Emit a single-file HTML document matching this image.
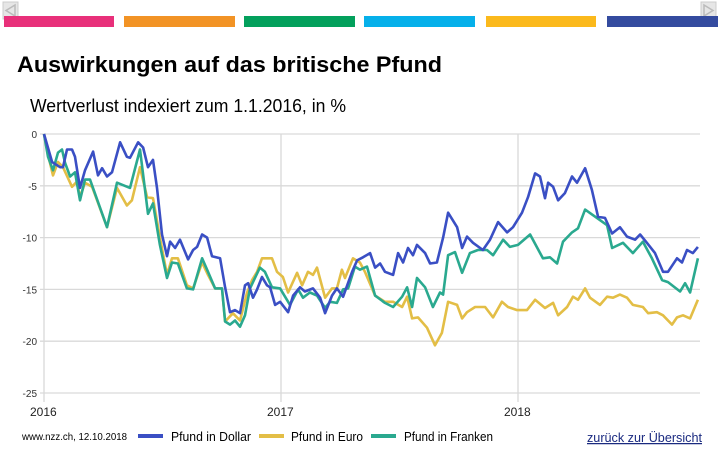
<!DOCTYPE html>
<html><head><meta charset="utf-8"><style>
html,body{margin:0;padding:0;background:#fff;}
svg{display:block;font-family:"Liberation Sans",sans-serif;}
</style></head><body>
<svg id="chart" width="720" height="450" viewBox="0 0 720 450">
  <g><rect x="3" y="2" width="15" height="17" fill="#e6e6e6" stroke="#ccc"/><path d="M15 5 L6 10.5 L15 16 Z" fill="none" stroke="#bbb" stroke-width="1.5"/></g>
  <g><rect x="701" y="2" width="15" height="17" fill="#e6e6e6" stroke="#ccc"/><path d="M704 5 L713 10.5 L704 16 Z" fill="none" stroke="#bbb" stroke-width="1.5"/></g>
  <g>
    <rect x="4" y="16" width="110" height="11" fill="#e8307a"/>
    <rect x="124" y="16" width="111" height="11" fill="#f29325"/>
    <rect x="244" y="16" width="111" height="11" fill="#03a05c"/>
    <rect x="364" y="16" width="111" height="11" fill="#06b0ea"/>
    <rect x="486" y="16" width="110" height="11" fill="#fbb91c"/>
    <rect x="607" y="16" width="111" height="11" fill="#344b9f"/>
  </g>
  <text x="17" y="72" font-size="22" font-weight="bold" fill="#000" textLength="425" lengthAdjust="spacingAndGlyphs">Auswirkungen auf das britische Pfund</text>
  <text x="30" y="112" font-size="18" fill="#000" textLength="316" lengthAdjust="spacingAndGlyphs">Wertverlust indexiert zum 1.1.2016, in %</text>
  <g id="grid"></g>
  <g id="series"></g>
  <text x="22" y="440" font-size="10" fill="#000" textLength="105" lengthAdjust="spacingAndGlyphs">www.nzz.ch, 12.10.2018</text>
  <g>
    <g><rect x="138" y="434" width="25" height="4" fill="#3a4fc4"/><text x="171" y="441" font-size="12.5" fill="#000" textLength="80" lengthAdjust="spacingAndGlyphs">Pfund in Dollar</text></g>
    <g><rect x="259" y="434" width="25" height="4" fill="#e3be46"/><text x="291" y="441" font-size="12.5" fill="#000" textLength="72" lengthAdjust="spacingAndGlyphs">Pfund in Euro</text></g>
    <g><rect x="371" y="434" width="25" height="4" fill="#2aa98f"/><text x="404" y="441" font-size="12.5" fill="#000" textLength="89" lengthAdjust="spacingAndGlyphs">Pfund in Franken</text></g>
  </g>
  <text x="587" y="442" font-size="12.5" fill="#1a2a80" text-decoration="underline" textLength="115" lengthAdjust="spacingAndGlyphs">zurück zur Übersicht</text>
</svg>
<script>
const yTicks = [0, -5, -10, -15, -20, -25];
const xTicks = [0, 1, 2];
const xTickLabels = ["2016", "2017", "2018"];
const dollarT = [0,.034,.068,.080,.097,.118,.131,.152,.173,.207,.228,.245,.266,.287,.321,.350,.363,.397,.418,.439,.460,.477,.498,.519,.532,.553,.574,.608,.629,.646,.667,.688,.709,.743,.764,.785,.806,.827,.848,.861,.882,.899,.920,.941,.954,.975,.996,1.030,1.051,1.080,1.101,1.135,1.165,1.186,1.215,1.236,1.262,1.300,1.321,1.346,1.376,1.397,1.418,1.439,1.473,1.494,1.515,1.536,1.557,1.574,1.608,1.629,1.658,1.684,1.705,1.743,1.764,1.785,1.810,1.852,1.882,1.916,1.954,1.979,2.017,2.042,2.072,2.093,2.114,2.127,2.148,2.169,2.198,2.228,2.249,2.283,2.312,2.338,2.367,2.397,2.430,2.460,2.494,2.515,2.544,2.578,2.612,2.633,2.671,2.692,2.713,2.738,2.759];
const dollarV = [0,-2.7,-3.2,-3.2,-1.5,-1.5,-2.2,-5.2,-3.5,-1.7,-4.0,-3.3,-4.1,-3.7,-0.8,-2.2,-2.3,-0.8,-1.3,-3.2,-2.5,-5.2,-9.7,-11.8,-10.4,-11,-10.2,-12.1,-11.2,-10.9,-9.7,-10,-11.8,-12,-14.8,-17.2,-17,-17.3,-14.6,-14.4,-15.8,-15,-13.8,-14.6,-14.8,-16.5,-16.2,-17.2,-15.6,-14.8,-15.2,-14.9,-15.8,-17.3,-15.6,-14.9,-15.7,-13.3,-12.2,-11.9,-11.5,-12.9,-12.5,-13.3,-13.6,-11.5,-12.4,-11,-11.7,-10.7,-11.5,-12.5,-12.4,-10,-7.6,-9,-11,-9.9,-10.5,-11.2,-10.2,-8.5,-9.5,-9,-7.6,-6.1,-3.8,-4.1,-6.2,-4.7,-5.1,-6.4,-5.7,-4.1,-4.7,-3.3,-5.4,-8,-8.1,-9.6,-9,-9.9,-10.2,-9.7,-10.5,-11.5,-13.3,-13.3,-12,-12.4,-11.2,-11.5,-10.9];
const euroT = [0,.017,.038,.059,.080,.118,.139,.152,.173,.203,.266,.308,.350,.371,.405,.435,.460,.489,.519,.540,.565,.603,.629,.667,.692,.722,.751,.764,.797,.827,.857,.878,.899,.920,.962,.983,1.008,1.030,1.068,1.089,1.114,1.135,1.152,1.186,1.215,1.236,1.257,1.270,1.304,1.333,1.354,1.397,1.439,1.473,1.511,1.532,1.553,1.578,1.616,1.650,1.679,1.705,1.743,1.764,1.785,1.819,1.861,1.895,1.932,1.958,1.996,2.038,2.072,2.114,2.148,2.169,2.207,2.232,2.253,2.283,2.304,2.346,2.376,2.401,2.430,2.460,2.485,2.527,2.549,2.586,2.612,2.650,2.671,2.696,2.726,2.759];
const euroV = [0,-2,-4,-2.7,-3.2,-5.1,-4.6,-6.1,-4.7,-5.1,-9,-5.2,-6.9,-6.4,-3.2,-6.1,-6.2,-10,-13.6,-12,-12,-14.6,-14.9,-12.4,-13.6,-14.9,-14.9,-18.1,-17.3,-18,-15.3,-14.1,-13.3,-12,-12,-13.3,-13.8,-15.3,-13.4,-14.6,-13.3,-13.6,-12.9,-15.8,-14.9,-14.9,-13.1,-13.9,-12,-12.4,-13.3,-15.6,-16.2,-16.2,-16.7,-15.7,-17.8,-17.7,-18.7,-20.4,-19.2,-16.2,-16.5,-17.8,-17.2,-16.7,-16.7,-17.7,-16.2,-16.7,-17,-17,-16,-16.8,-16.3,-17.5,-16.7,-15.7,-16,-14.9,-15.8,-16.5,-15.7,-15.8,-15.5,-15.8,-16.5,-16.7,-17.3,-17.2,-17.5,-18.4,-17.7,-17.5,-17.8,-16];
const frankenT = [0,.017,.038,.059,.076,.089,.110,.131,.152,.173,.194,.266,.308,.363,.405,.439,.460,.489,.519,.540,.565,.603,.629,.667,.692,.722,.751,.764,.785,.806,.827,.848,.869,.911,.932,.962,.996,1.038,1.072,1.093,1.122,1.152,1.186,1.207,1.236,1.262,1.283,1.312,1.333,1.363,1.397,1.439,1.473,1.511,1.532,1.553,1.574,1.608,1.641,1.671,1.684,1.705,1.734,1.764,1.797,1.831,1.869,1.895,1.937,1.966,2.000,2.051,2.105,2.135,2.165,2.190,2.228,2.253,2.283,2.333,2.376,2.397,2.443,2.485,2.527,2.565,2.608,2.633,2.684,2.705,2.726,2.759];
const frankenV = [0,-2.2,-3.5,-1.8,-1.5,-2.8,-4.1,-3.7,-6.4,-4.4,-4.4,-9,-4.7,-5.2,-1.5,-7.7,-6.7,-10.7,-13.9,-12.4,-12.5,-14.9,-15,-12,-13.3,-14.9,-14.9,-18.1,-18.4,-18,-18.6,-17.5,-14.9,-12.9,-13.3,-14.8,-14.9,-16.5,-15,-15.8,-15.3,-15.6,-16.8,-16.2,-16.3,-15,-14.9,-12.8,-13.1,-12.8,-15.6,-16.3,-16.7,-15.7,-14.8,-16.7,-13.9,-14.8,-16.7,-15.3,-15.5,-11.7,-11.4,-13.4,-11.5,-11.2,-11.2,-11.7,-10.2,-10.9,-10.7,-9.7,-12,-11.9,-12.5,-10.4,-9.5,-9.1,-7.3,-8.1,-8.8,-11,-10.5,-11.5,-10.4,-12,-14.1,-14.3,-15.2,-14.4,-15.3,-12];

const NS = "http://www.w3.org/2000/svg";
const X0 = 44, XW = 237, Y0 = 134, YU = 259 / 25;
function xScale(t) { return X0 + t * XW; }
function yScale(v) { return Y0 - v * YU; }
const grid = document.getElementById('grid');
yTicks.forEach(function (v) {
  const l = document.createElementNS(NS, 'line');
  l.setAttribute('x1', X0 - 4); l.setAttribute('x2', 700);
  l.setAttribute('y1', yScale(v)); l.setAttribute('y2', yScale(v));
  l.setAttribute('stroke', '#d9d9d9'); l.setAttribute('stroke-width', '1.3');
  
  
  grid.appendChild(l);
  const tx = document.createElementNS(NS, 'text');
  tx.setAttribute('x', 37); tx.setAttribute('y', yScale(v) + 4);
  tx.setAttribute('text-anchor', 'end'); tx.setAttribute('font-size', '10'); tx.setAttribute('fill', '#333');
  tx.textContent = String(v);
  
  
  grid.appendChild(tx);
});
xTicks.forEach(function (t, i) {
  const l = document.createElementNS(NS, 'line');
  l.setAttribute('x1', xScale(t)); l.setAttribute('x2', xScale(t));
  l.setAttribute('y1', Y0); l.setAttribute('y2', 402);
  l.setAttribute('stroke', '#d9d9d9'); l.setAttribute('stroke-width', '1.3');
  
  
  grid.appendChild(l);
  const tx = document.createElementNS(NS, 'text');
  tx.setAttribute('x', xScale(t) - 14); tx.setAttribute('y', 416);
  tx.setAttribute('font-size', '12'); tx.setAttribute('fill', '#222');
  tx.textContent = xTickLabels[i];
  
  
  grid.appendChild(tx);
});
const ser = document.getElementById('series');
function drawLine(ts, vs, color, name) {
  const p = document.createElementNS(NS, 'polyline');
  p.setAttribute('points', ts.map(function (t, i) { return xScale(t).toFixed(1) + ',' + yScale(vs[i]).toFixed(1); }).join(' '));
  p.setAttribute('fill', 'none'); p.setAttribute('stroke', color);
  p.setAttribute('stroke-width', '2.6'); p.setAttribute('stroke-linejoin', 'round');
  
  
  ser.appendChild(p);
}
drawLine(euroT, euroV, '#e3be46', 'line-pfund-euro');
drawLine(frankenT, frankenV, '#2aa98f', 'line-pfund-franken');
drawLine(dollarT, dollarV, '#3a4fc4', 'line-pfund-dollar');
</script>
</body></html>
